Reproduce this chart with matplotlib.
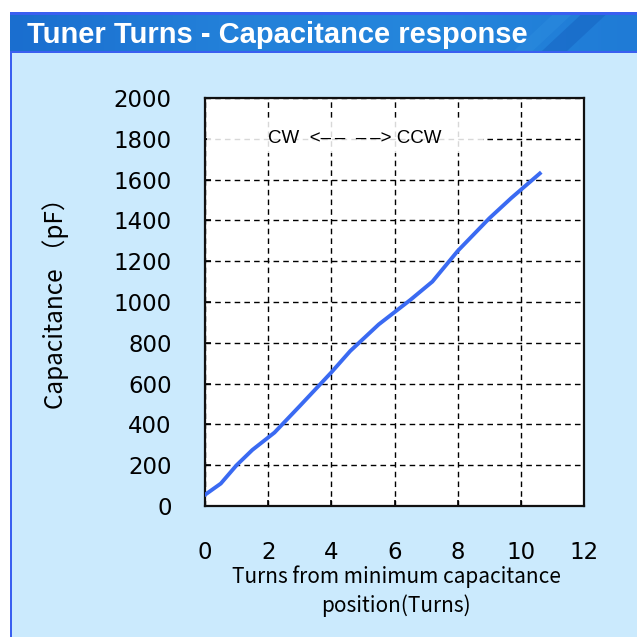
import matplotlib.pyplot as plt
import numpy as np
from matplotlib.colors import LinearSegmentedColormap
from matplotlib.patches import Polygon, Rectangle

# curve (turns, pF)
turns = [0.0, 0.5, 1.0, 1.5, 2.2, 3.0, 4.0, 4.6, 5.5, 6.5, 7.2, 8.0, 9.0, 9.7, 10.6]
capacitance = [55, 110, 200, 275, 360, 490, 655, 760, 890, 1010, 1100, 1250, 1410, 1510, 1630]

x_ticks = [0, 2, 4, 6, 8, 10, 12]
y_ticks = list(range(0, 2001, 200))

TITLE = "Tuner Turns - Capacitance response"
NOTE = "CW  <\u2013\u2009\u2013  \u2013\u2009\u2013> CCW"
PANEL_BG = "#cbeafd"
CURVE_BLUE = "#3a6af2"
BORDER_BLUE = "#3a5ff0"

W = H = 637

fig = plt.figure(figsize=(6.37, 6.37), dpi=100)
fig.patch.set_facecolor("white")

# light blue panel and its left border
fig.patches.append(Rectangle((10 / W, 0), 1 - 10 / W, 1 - 53 / H,
                             transform=fig.transFigure, facecolor=PANEL_BG,
                             edgecolor="none", zorder=-2))
fig.patches.append(Rectangle((10 / W, 0), 2.5 / W, 1 - 12 / H,
                             transform=fig.transFigure, facecolor=BORDER_BLUE,
                             edgecolor="none", zorder=-1))

# header band
hax = fig.add_axes([10 / W, 1 - 53 / H, 1 - 10 / W, 41 / H])
hax.set_zorder(2)
grad = np.linspace(0, 1, 256)[None, :]
hcmap = LinearSegmentedColormap.from_list("hdr", ["#1a6ecf", "#2380d9", "#2586dc", "#1f7bd6"])
hax.imshow(grad, aspect="auto", cmap=hcmap, extent=[0, 1, 0, 1])
hax.set_xlim(0, 1)
hax.set_ylim(0, 1)
hax.axis("off")
hax.add_patch(Polygon([(0.845, 0.0), (0.885, 0.0), (0.955, 1.0), (0.915, 1.0)],
                      closed=True, facecolor="#1766c4", edgecolor="none", alpha=0.6))
hax.add_patch(Polygon([(0.80, 0.0), (0.83, 0.0), (0.90, 1.0), (0.87, 1.0)],
                      closed=True, facecolor="#3090e0", edgecolor="none", alpha=0.4))
hax.plot([0, 1], [0.985, 0.985], color=BORDER_BLUE, linewidth=2.2)
hax.plot([0, 1], [0.02, 0.02], color=BORDER_BLUE, linewidth=2.2)
hax.text(17 / (W - 10), 0.44, TITLE, transform=hax.transAxes, color="white",
         fontsize=21, fontweight="bold", family="Liberation Sans",
         ha="left", va="center")

# main plot
ax = fig.add_axes([205 / W, 1 - 506 / H, 379 / W, 408 / H])
ax.set_zorder(2)
ax.set_facecolor("white")
ax.plot(turns, capacitance, color=CURVE_BLUE, linewidth=2.8, zorder=3)
ax.set_xlim(0, 12)
ax.set_ylim(0, 2000)
ax.set_xticks(x_ticks)
ax.set_yticks(y_ticks)
ax.grid(True, color="black", linestyle=(0, (4, 3)), linewidth=1.0)
ax.set_axisbelow(True)
for s in ax.spines.values():
    s.set_linewidth(1.6)
    s.set_color("#111111")
ax.tick_params(axis="both", direction="in", length=4, width=1.2,
               labelsize=16.5, pad=24)
ax.tick_params(axis="x", pad=25)
for lab in ax.get_xticklabels() + ax.get_yticklabels():
    lab.set_family("DejaVu Sans")

# faded box behind the direction note
ax.add_patch(Rectangle((0.06, 1730), 8.74, 162, facecolor="white",
                       edgecolor="none", alpha=0.85, zorder=2.5))
ax.text(2.0, 1800, NOTE, fontsize=13.5, family=["Liberation Sans", "DejaVu Sans"],
        ha="left", va="center", zorder=4)

ax.set_xlabel("Turns from minimum capacitance\nposition(Turns)",
              family="Noto Sans CJK JP", fontsize=15, linespacing=1.4)
ax.xaxis.set_label_coords(0.505, -0.145)
ax.set_ylabel("Capacitance （pF）", family="Noto Sans CJK JP", fontsize=17.5)
ax.yaxis.set_label_coords(-0.36, 0.51)

fig.savefig("out.png", dpi=100)
